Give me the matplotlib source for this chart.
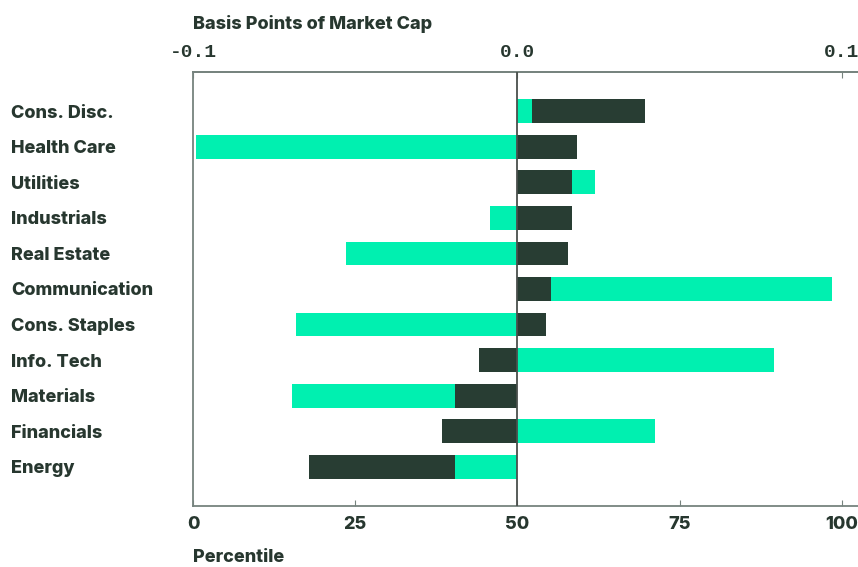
import matplotlib
matplotlib.use("Agg")
from matplotlib import pyplot as plt

# sectors, top to bottom
sectors = [
    "Cons. Disc.", "Health Care", "Utilities", "Industrials", "Real Estate",
    "Communication", "Cons. Staples", "Info. Tech", "Materials", "Financials", "Energy",
]
# percentile (green bars, drawn from 50)
percentile = [52.3, 0.5, 62.0, 45.8, 23.6, 98.5, 15.9, 89.6, 15.2, 71.2, 40.4]
# basis points of market cap (dark bars, drawn from 0)
bps = [0.0394, 0.0184, 0.0169, 0.0169, 0.0156, 0.0104, 0.0088,
       -0.0118, -0.0192, -0.0232, -0.0643]

DARK = "#283d33"
GREEN = "#00f0b0"
TEXT = "#27372f"
SPINE = "#76837e"
FONT = "Inter"
MONO = "Liberation Mono"
WEIGHT = 800
SIZE = 13


def bp_to_pct(v):
    return v * 500 + 50


def pct_to_bp(v):
    return (v - 50) / 500


fig = plt.figure(figsize=(8.58, 5.67), dpi=100)
ax = fig.add_axes([193 / 858, 1 - 506 / 567, 665 / 858, 434 / 567])

n = len(sectors)
ypos = [n - 1 - i for i in range(n)]
height = 0.67

# the shorter of the two bars in a row sits on top
for y, p, b in zip(ypos, percentile, bps):
    green_len = abs(p - 50)
    dark_len = abs(bp_to_pct(b) - 50)
    gz, dz = (3, 2) if green_len < dark_len else (2, 3)
    ax.barh(y, p - 50, left=50, height=height, color=GREEN, zorder=gz)
    ax.barh(y, bp_to_pct(b) - 50, left=50, height=height, color=DARK, zorder=dz)

ax.axvline(50, color="#4a4f4c", linewidth=1.3, zorder=4)

ax.set_xlim(0, 102.5)
ax.set_ylim(-1.1, n - 1 + 1.1)

ax.spines["right"].set_visible(False)
for side in ("left", "top", "bottom"):
    ax.spines[side].set_color(SPINE)
    ax.spines[side].set_linewidth(1.3)

ax.set_xticks([0, 25, 50, 75, 100])
ax.set_xticklabels(["0", "25", "50", "75", "100"], fontfamily=FONT,
                   fontweight=WEIGHT, fontsize=SIZE, color=TEXT)
ax.tick_params(axis="x", direction="in", length=4, color=SPINE, pad=7)

ax.set_yticks(ypos)
ax.set_yticklabels(sectors, fontfamily=FONT, fontweight=WEIGHT,
                   fontsize=SIZE, color=TEXT, ha="left")
ax.tick_params(axis="y", length=0, pad=131)

ax.set_xlabel("Percentile", fontfamily=FONT, fontweight=WEIGHT, fontsize=SIZE,
              color=TEXT, loc="left", labelpad=12)

top = ax.secondary_xaxis("top", functions=(pct_to_bp, bp_to_pct))
top.set_xticks([-0.1, 0.0, 0.1])
top.set_xticklabels(["-0.1", "0.0", "0.1"], fontfamily=MONO, fontweight="bold",
                    fontsize=14, color=TEXT)
top.tick_params(axis="x", direction="in", length=4, color=SPINE, pad=8)
top.spines["top"].set_color(SPINE)
top.spines["top"].set_linewidth(1.3)
top.set_xlabel("Basis Points of Market Cap", fontfamily=FONT, fontweight=WEIGHT,
               fontsize=SIZE, color=TEXT, loc="left", labelpad=11)

fig.savefig("out.png", dpi=100)
